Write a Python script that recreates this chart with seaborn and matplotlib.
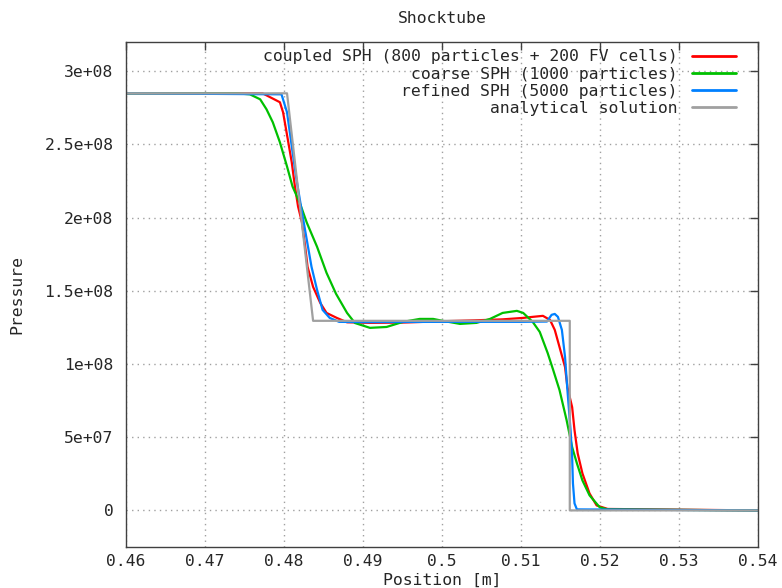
import matplotlib
matplotlib.use("Agg")
import matplotlib.pyplot as plt
import numpy as np
import pandas as pd
import seaborn as sns
from matplotlib.ticker import FuncFormatter, MultipleLocator

# ---- data (x in m, pressure in 1e8) ----
coupled_x = [0.4600, 0.4773, 0.4795, 0.4799, 0.4805, 0.4810, 0.4814, 0.4818,
             0.4823, 0.4827, 0.4830, 0.4837, 0.4846, 0.4854, 0.4867, 0.4880,
             0.4910, 0.4950, 0.5000, 0.5040, 0.5077, 0.5103, 0.5115, 0.5128,
             0.5137, 0.5143, 0.5149, 0.5156, 0.5159, 0.5165, 0.5168, 0.5172,
             0.5178, 0.5187, 0.5196, 0.5210, 0.5400]
coupled_p = [2.849, 2.849, 2.788, 2.719, 2.534, 2.377, 2.212, 2.075,
             1.966, 1.801, 1.664, 1.527, 1.418, 1.349, 1.315, 1.285,
             1.281, 1.283, 1.292, 1.298, 1.305, 1.315, 1.322, 1.329,
             1.301, 1.233, 1.116, 0.979, 0.842, 0.705, 0.548, 0.390,
             0.253, 0.116, 0.034, 0.010, 0.0]

coarse_x = [0.4600, 0.4740, 0.4757, 0.4770, 0.4778, 0.4786, 0.4795, 0.4804,
            0.4811, 0.4820, 0.4829, 0.4842, 0.4854, 0.4866, 0.4880, 0.4890,
            0.4909, 0.4930, 0.4951, 0.4972, 0.4989, 0.5001, 0.5023, 0.5044,
            0.5061, 0.5077, 0.5095, 0.5103, 0.5115, 0.5124, 0.5134, 0.5141,
            0.5149, 0.5158, 0.5165, 0.5171, 0.5178, 0.5187, 0.5200, 0.5210,
            0.5400]
coarse_p = [2.849, 2.849, 2.842, 2.808, 2.740, 2.651, 2.514, 2.349,
            2.212, 2.103, 1.966, 1.801, 1.623, 1.480, 1.349, 1.280,
            1.247, 1.253, 1.288, 1.308, 1.308, 1.295, 1.274, 1.281,
            1.308, 1.349, 1.363, 1.349, 1.288, 1.219, 1.075, 0.959,
            0.822, 0.616, 0.432, 0.322, 0.205, 0.103, 0.021, 0.007,
            0.0]

refined_x = [0.4600, 0.4797, 0.4804, 0.4810, 0.4816, 0.4823, 0.4829, 0.4835,
             0.4842, 0.4849, 0.4858, 0.4870, 0.4900, 0.5000, 0.5100, 0.5133,
             0.5139, 0.5143, 0.5147, 0.5152, 0.5156, 0.5159, 0.5163, 0.5165,
             0.5166, 0.5168, 0.5171, 0.5400]
refined_p = [2.849, 2.842, 2.719, 2.486, 2.260, 2.034, 1.849, 1.664,
             1.507, 1.370, 1.315, 1.288, 1.286, 1.288, 1.288, 1.290,
             1.336, 1.342, 1.322, 1.233, 1.048, 0.822, 0.548, 0.363,
             0.185, 0.048, 0.007, 0.0]

exact_x = [0.4600, 0.4804, 0.4837, 0.5162, 0.5162, 0.5400]
exact_p = [2.849, 2.849, 1.295, 1.295, 0.0, 0.0]

labels = ["coupled SPH (800 particles + 200 FV cells)",
          "coarse SPH (1000 particles)",
          "refined SPH (5000 particles)",
          "analytical solution"]
colors = ["#ff0000", "#00c000", "#0080ff", "#a0a0a0"]

frames = []
for lab, xs, ps in zip(labels,
                       [coupled_x, coarse_x, refined_x, exact_x],
                       [coupled_p, coarse_p, refined_p, exact_p]):
    frames.append(pd.DataFrame({"x": xs, "p": np.array(ps) * 1e8, "run": lab}))
df = pd.concat(frames, ignore_index=True)

sns.set_style("white")
plt.rcParams["font.family"] = ["DejaVu Sans Mono"]
fs = 11.8

fig = plt.figure(figsize=(7.82, 5.88), dpi=100)
ax = fig.add_axes([0.161, 0.0697, 0.808, 0.859])

sns.lineplot(data=df, x="x", y="p", hue="run", palette=colors,
             hue_order=labels, estimator=None, sort=False, lw=1.6, ax=ax)

ax.set_xlim(0.46, 0.54)
ax.set_ylim(-2.5e7, 3.2e8)
ax.xaxis.set_major_locator(MultipleLocator(0.01))
ax.yaxis.set_major_locator(MultipleLocator(5e7))
fmt = FuncFormatter(lambda v, pos: "%g" % round(v, 10))
ax.xaxis.set_major_formatter(fmt)
ax.yaxis.set_major_formatter(fmt)

ax.grid(True, color="#a0a0a0", linestyle=(0, (1, 3)), lw=1)
ax.tick_params(direction="in", top=True, right=True, length=6,
               width=1, color="#404040", labelsize=fs)
ax.tick_params(axis="y", pad=9)
ax.tick_params(axis="x", pad=5)
for s in ax.spines.values():
    s.set_color("#404040")
    s.set_linewidth(1)

ax.set_title("Shocktube", fontsize=fs, pad=13.5)
ax.set_xlabel("Position [m]", fontsize=fs, labelpad=2.5)
ax.set_ylabel("Pressure", fontsize=fs, labelpad=14)

leg = ax.legend(loc="upper right", bbox_to_anchor=(0.976, 0.998),
                frameon=False, markerfirst=False,
                handlelength=2.7, handletextpad=0.85, labelspacing=0.13,
                borderaxespad=0.0, fontsize=fs)
for line in leg.get_lines():
    line.set_linewidth(2)

fig.savefig("out.png", dpi=100)
